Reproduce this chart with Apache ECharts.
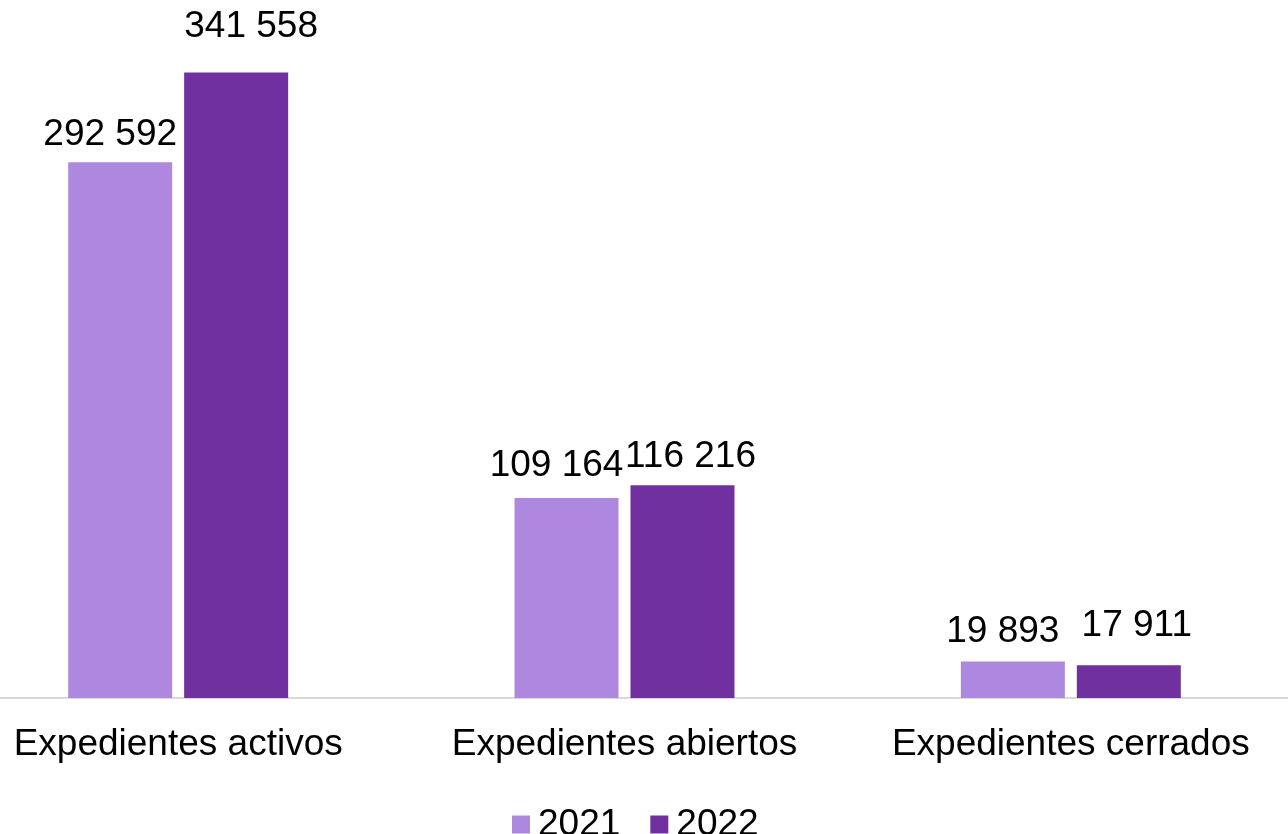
<!DOCTYPE html>
<html>
<head>
<meta charset="utf-8">
<script src="https://cdn.jsdelivr.net/npm/echarts@6/dist/echarts.min.js"></script>
<style>
  html, body { margin: 0; padding: 0; background: #fff; overflow: hidden; }
  /* the plot runs a little past both edges of the picture */
  #echart { width: 1339px; height: 834px; margin-left: -45px; }
</style>
</head>
<body>
<div id="echart"></div>
<script>
const categories = ['Expedientes activos', 'Expedientes abiertos', 'Expedientes cerrados'];
const years = ['2021', '2022'];
const values2021 = [292592, 109164, 19893];
const values2022 = [341558, 116216, 17911];

// label offsets (Excel put them a bit apart)
const dist2021 = [9, 14, 11];
const dist2022 = [27, 10, 21];
const shift2022 = [15, 8, 8];

const chart = echarts.init(document.getElementById('echart'));

// "341 558" style: thousands separated by space
function fmt(v) {
    return String(v).replace(/\B(?=(\d{3})+(?!\d))/g, ' ');
}

function withDist(values, dists, shifts) {
    return values.map((v, i) => ({
        value: v,
        label: shifts ? { distance: dists[i], offset: [shifts[i], 0] } : { distance: dists[i] }
    }));
}

const font = 'Liberation Sans, Arial, sans-serif';

const option = {
    animation: false,
    backgroundColor: '#ffffff',
    grid: { left: 0, right: 0, top: 57, bottom: 136, containLabel: false },
    legend: {
        data: years,
        left: 552,
        top: 801,
        itemWidth: 18,
        itemHeight: 18,
        itemGap: 30,
        icon: 'rect',
        textStyle: { fontSize: 37, fontFamily: font, color: '#000', padding: [0, 0, 0, 3] }
    },
    xAxis: {
        type: 'category',
        data: categories,
        axisLine: { lineStyle: { color: '#d9d9d9', width: 2 } },
        axisTick: { show: false },
        axisLabel: { interval: 0, hideOverlap: false, fontSize: 37, fontFamily: font, color: '#000', margin: 28 }
    },
    yAxis: {
        type: 'value',
        min: 0,
        max: 350000,
        show: false,
        splitLine: { show: false }
    },
    series: [
        {
            name: '2021',
            type: 'bar',
            barWidth: 104,
            barGap: '11.5%',
            data: withDist(values2021, dist2021),
            itemStyle: { color: '#ae88df' },
            label: {
                show: true, position: 'top', offset: [-10, 0],
                fontSize: 37, fontFamily: font, color: '#000',
                formatter: p => fmt(p.value)
            }
        },
        {
            name: '2022',
            type: 'bar',
            barWidth: 104,
            data: withDist(values2022, dist2022, shift2022),
            itemStyle: { color: '#7030a0' },
            label: {
                show: true, position: 'top',
                fontSize: 37, fontFamily: font, color: '#000',
                formatter: p => fmt(p.value)
            }
        }
    ]
};

chart.setOption(option);
</script>
</body>
</html>
